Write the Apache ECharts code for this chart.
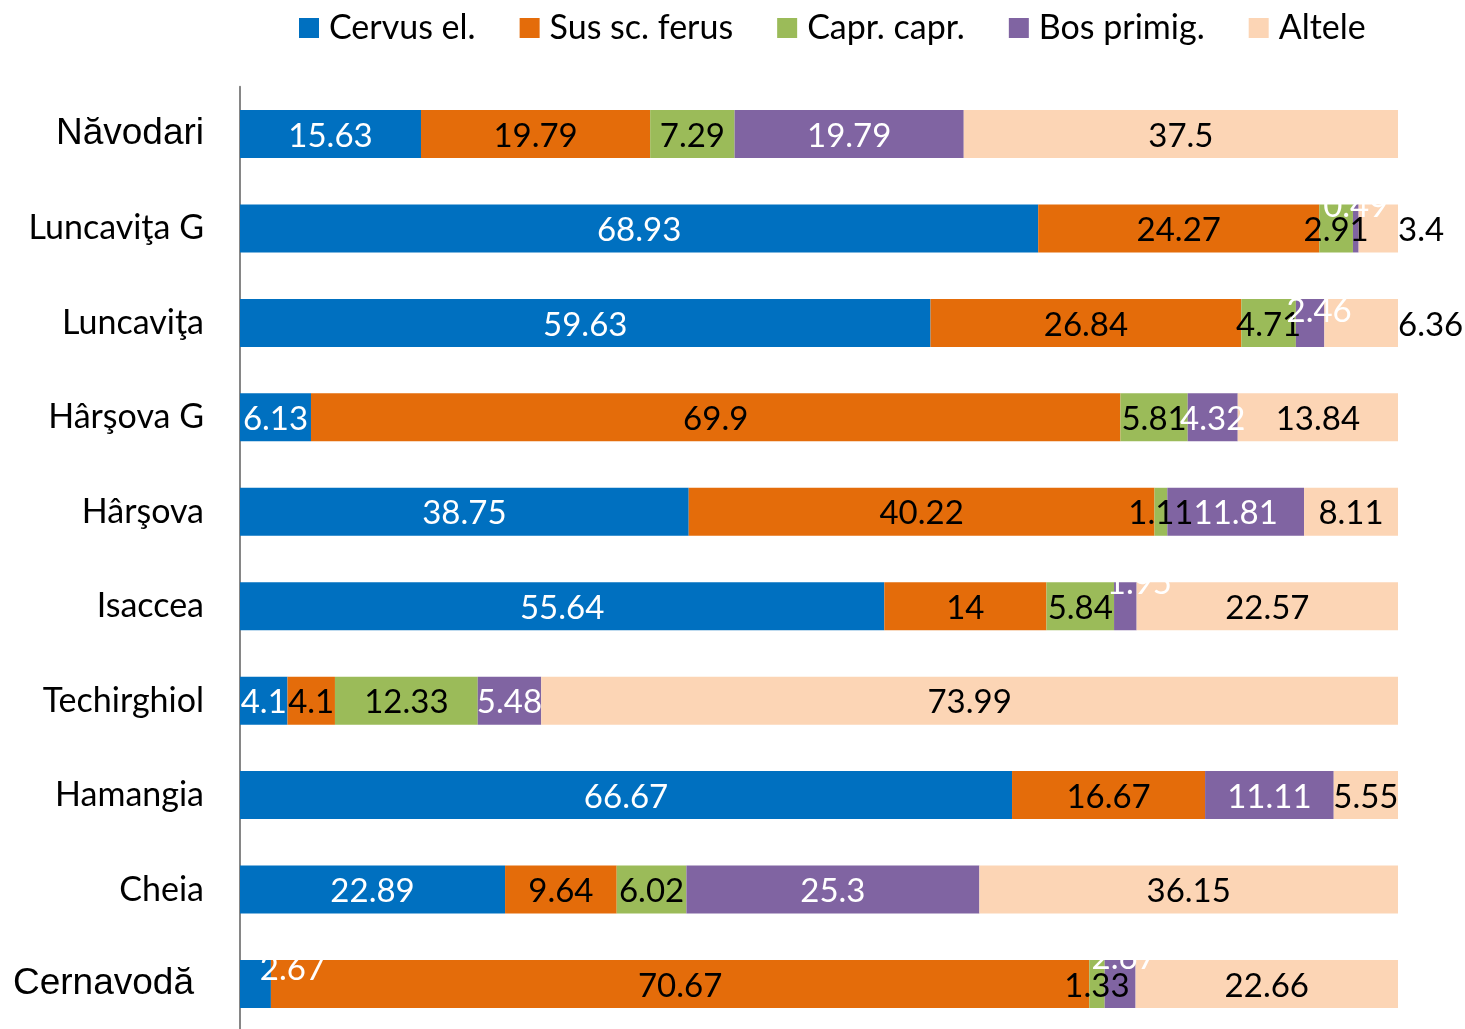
<!DOCTYPE html>
<html>
<head>
<meta charset="utf-8">
<script src="https://cdn.jsdelivr.net/npm/echarts@6/dist/echarts.min.js"></script>
<style>html,body{margin:0;padding:0;background:#fff;overflow:hidden}#c{width:1465px;height:1040px}</style>
</head>
<body>
<div id="c"></div>
<script>
const categories = ['Năvodari','Luncaviţa G','Luncaviţa','Hârşova G','Hârşova','Isaccea','Techirghiol','Hamangia','Cheia','Cernavodă'];
const seriesNames = ['Cervus el.','Sus sc. ferus','Capr. capr.','Bos primig.','Altele'];
const cervus = [15.63, 68.93, 59.63, 6.13, 38.75, 55.64, 4.1, 66.67, 22.89, 2.67];
const sus    = [19.79, 24.27, 26.84, 69.9, 40.22, 14, 4.1, 16.67, 9.64, 70.67];
const capr   = [7.29, 2.91, 4.71, 5.81, 1.11, 5.84, 12.33, 0, 6.02, 1.33];
const bos    = [19.79, 0.49, 2.46, 4.32, 11.81, 1.95, 5.48, 11.11, 25.3, 2.67];
const altele = [37.5, 3.4, 6.36, 13.84, 8.11, 22.57, 73.99, 5.55, 36.15, 22.66];

// label placement quirks (style, not data): [seriesIndex, categoryIndex, dx, dy]
const shiftedLabels = [[3,1,0,-22],[3,2,9,-12],[3,5,14,-23],[0,9,37,-15],[3,9,4,-26]];
const outsideLabels = [[4,1],[4,2]];

const colors = ['#0070C0','#E46C0A','#9BBB59','#8064A2','#FCD5B5'];
const labelColors = ['#fff','#000','#000','#fff','#000'];
const allValues = [cervus, sus, capr, bos, altele];
const FONT = 'Lato, "Open Sans", sans-serif';

const series = allValues.map((vals, si) => ({
  name: seriesNames[si],
  type: 'bar',
  stack: 'total',
  barWidth: 48,
  itemStyle: { color: colors[si] },
  label: {
    show: true, position: 'inside', color: labelColors[si],
    fontSize: 33, fontFamily: FONT, offset: [0, 2],
    formatter: p => p.value === 0 ? '' : String(p.value)
  },
  data: vals.map((v, ci) => {
    const d = { value: v };
    const sh = shiftedLabels.find(s => s[0] === si && s[1] === ci);
    if (sh) d.label = { offset: [sh[2], sh[3]] };
    if (outsideLabels.find(s => s[0] === si && s[1] === ci)) d.label = { position: 'right', distance: 0 };
    return d;
  })
}));

const chart = echarts.init(document.getElementById('c'));
chart.setOption({
  animation: false,
  color: colors,
  legend: {
    top: 6, left: 294,
    itemWidth: 20, itemHeight: 20, itemGap: 44,
    icon: 'rect',
    textStyle: { fontSize: 34, fontFamily: FONT, color: '#000', padding: [0,0,0,5] },
    data: seriesNames
  },
  grid: { left: 240, right: 67, top: 86.8, height: 944.4 },
  xAxis: { type: 'value', min: 0, max: 100, show: false },
  yAxis: {
    type: 'category', data: categories, inverse: true,
    axisLine: { show: true, lineStyle: { color: '#868686', width: 2 } },
    axisTick: { show: false },
    axisLabel: {
      margin: 36, fontSize: 34, fontFamily: FONT, color: '#000',
      formatter: v => (v === 'Năvodari' ? '{a|' + v + '}' : v === 'Cernavodă' ? '{b|' + v + '}' : v),
      rich: {
        a: { fontFamily: '"Liberation Sans", Arial, sans-serif', fontSize: 37, color: '#000' },
        b: { fontFamily: '"Liberation Sans", Arial, sans-serif', fontSize: 37, color: '#000', padding: [0, 10, 0, 0] }
      }
    }
  },
  series: series
});
</script>
</body>
</html>
